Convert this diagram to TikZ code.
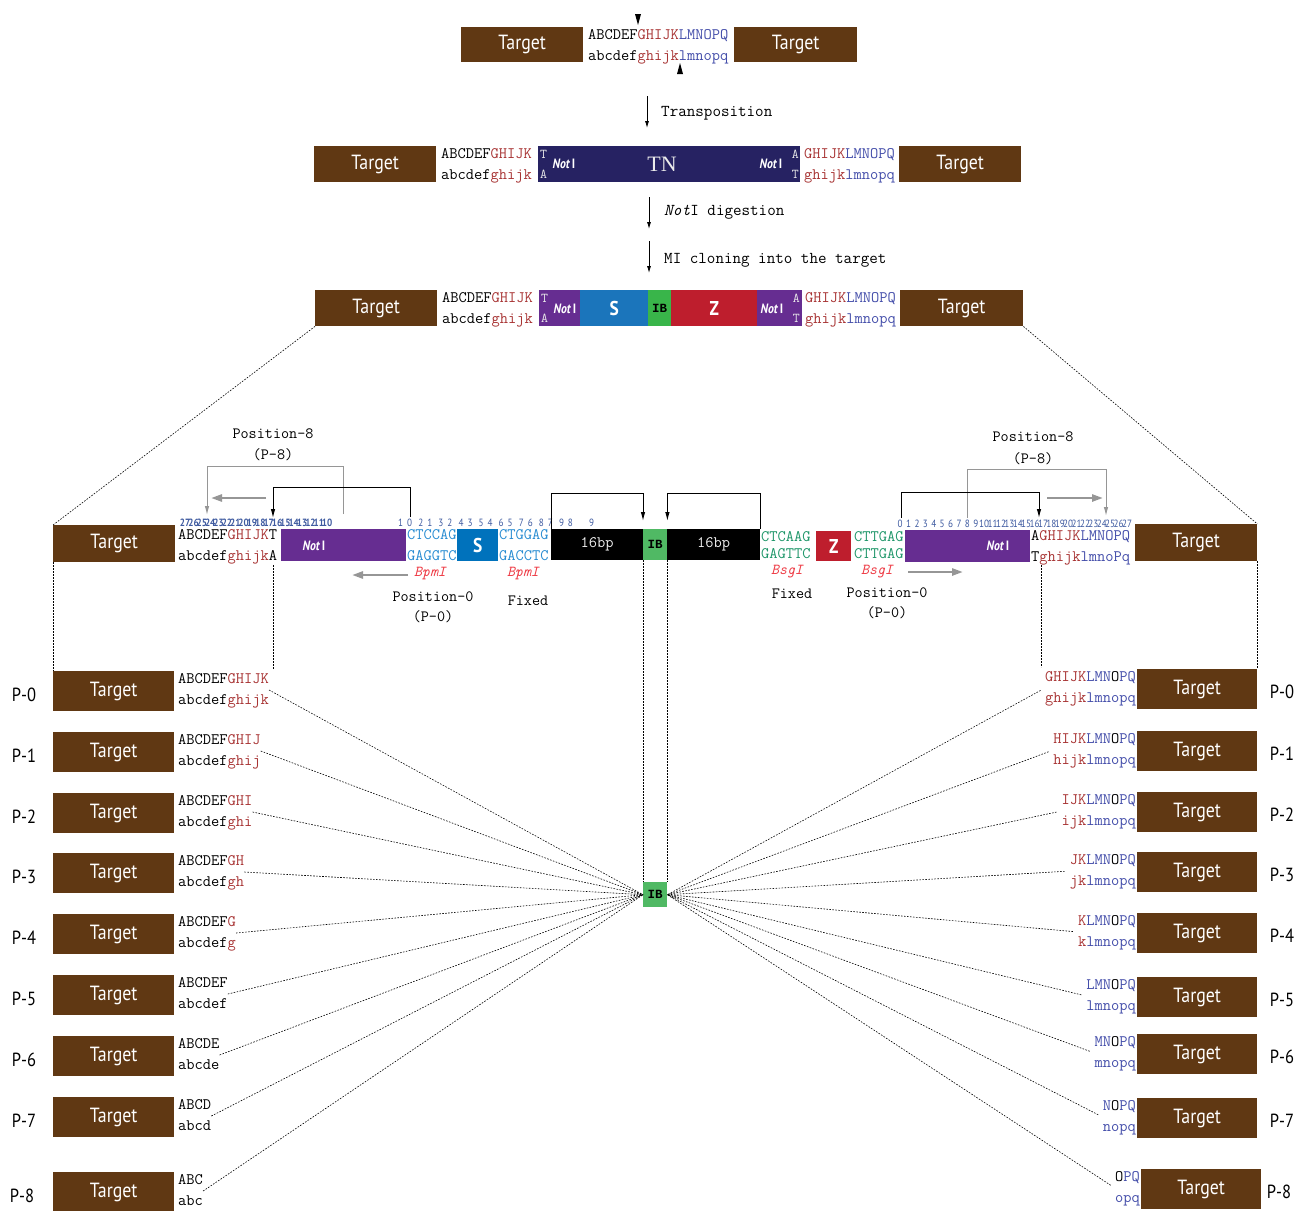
\documentclass[tikz,border=0pt]{standalone}
\usepackage{fontspec}
\setmainfont{Liberation Serif}
\newfontfamily\tgtfont[FakeStretch=0.87]{PT Sans}
\newfontfamily\ibfont{Liberation Mono}
\usetikzlibrary{arrows.meta,positioning}

\definecolor{tgtbrown}{RGB}{96,56,19}
\definecolor{seqred}{RGB}{168,52,52}
\definecolor{seqblue}{RGB}{68,78,170}
\definecolor{tnnavy}{RGB}{38,34,98}
\definecolor{notpurple}{RGB}{102,45,145}
\definecolor{sblue}{RGB}{27,117,187}
\definecolor{sbluedk}{RGB}{0,114,188}
\definecolor{ibgreen}{RGB}{57,181,74}
\definecolor{ibgreenlt}{RGB}{80,185,100}
\definecolor{zred}{RGB}{190,30,45}
\definecolor{enzred}{RGB}{238,58,68}
\definecolor{bpmblue}{RGB}{40,140,210}
\definecolor{bsggreen}{RGB}{30,150,105}
\definecolor{numblue}{RGB}{62,90,160}
\definecolor{arrgrey}{RGB}{150,150,150}

\newcommand{\seqR}[1]{\textcolor{seqred}{#1}}
\newcommand{\seqB}[1]{\textcolor{seqblue}{#1}}
\newcommand{\seqfont}{\ttfamily\fontsize{16}{21}\selectfont}
\newcommand{\notI}{{\bfseries\itshape Not}\,{\bfseries I}}
\newcommand{\numcell}[1]{\makebox[8.35pt]{#1}}
\newcommand{\numcellR}[1]{\makebox[8.4pt]{#1}}
\newcommand{\numpair}[2]{\makebox[20.1pt][l]{\makebox[9pt][l]{#1}#2}}

\begin{document}
\begin{tikzpicture}[x=1pt,y=-1pt,
  target/.style={fill=tgtbrown,text=white,inner sep=0pt,minimum width=122,minimum height=37,anchor=north west,font=\tgtfont\fontsize{20.5}{24}\selectfont},
  box/.style={inner sep=0pt,anchor=north west},
  letter/.style={text=white,font=\tgtfont\bfseries\fontsize{20}{22}\selectfont},
  ibtext/.style={text=black,font=\ibfont\bfseries\fontsize{12.5}{14}\selectfont},
  seq/.style={font=\seqfont,align=left,inner sep=0pt,anchor=west},
  seqr/.style={seq,align=right,anchor=east},
  seqg/.style={seq,font=\ttfamily\fontsize{16}{17}\selectfont},
  talbl/.style={font=\ttfamily\fontsize{13.5}{20}\selectfont,text=black!8,align=left,inner sep=0pt,anchor=west},
  notlbl/.style={font=\tgtfont\fontsize{13.5}{15}\selectfont,text=white,inner sep=0pt},
  lbl/.style={font=\ttfamily\fontsize{16.6}{18}\selectfont,inner sep=0pt,anchor=west},
  poslbl/.style={font=\ttfamily\fontsize{15.7}{18}\selectfont,inner sep=0pt},
  enz/.style={font=\ttfamily\itshape\fontsize{15.2}{17}\selectfont,text=enzred,inner sep=0pt},
  nums/.style={font=\tgtfont\fontsize{10.5}{11}\selectfont,text=numblue,inner sep=0pt,anchor=base west},
  plabel/.style={font=\tgtfont\fontsize{19}{22}\selectfont,inner sep=0pt,anchor=base},
  flow/.style={-{Latex[length=7pt,width=4pt]},line width=0.8pt},
  bracket/.style={-{Latex[length=9pt,width=4.5pt]},line width=1pt},
  greybracket/.style={bracket,draw=arrgrey,-{Latex[length=9pt,width=4.5pt,fill=arrgrey]}},
  greyarrow/.style={-{Triangle[length=11pt,width=7pt]},line width=2.5pt,draw=arrgrey},
  dotline/.style={dash pattern=on 1.6pt off 1.4pt,line width=0.6pt}]
\path[use as bounding box,fill=white] (0,0) rectangle (1295,1210);

\node[target,minimum height=35] (t1L) at (461,27) {Target};
\node[target,minimum width=123,minimum height=35] (t1R) at (734,27) {Target};
\node[seq] (s1) at (588,46) {\strut ABCDEF\seqR{GHIJK}\seqB{LMNOPQ}\\\strut abcdef\seqR{ghijk}\seqB{lmnopq}};
\fill (635,14) -- (641,14) -- (638,25) -- cycle;
\fill (677,74) -- (683,74) -- (680,63) -- cycle;

\coordinate (a1) at (647,96);
\coordinate (a1e) at (647,128);
\draw[flow] (a1) -- (a1e);
\node[lbl] (l1) at (661,113) {Transposition};

\node[target,minimum height=36] (t2L) at (314,146) {Target};
\node[seq] (s2L) at (441,165) {\strut ABCDEF\seqR{GHIJK}\\\strut abcdef\seqR{ghijk}};
\node[box,fill=tnnavy,minimum width=262,minimum height=36] (tn) at (538,146) {};
\node[talbl] (tn1) at (540,164) {\strut T\\\strut A};
\node[notlbl] (tn2) at (564,164) {\notI};
\node[font=\fontsize{22}{24}\selectfont,text=black!8,inner sep=0pt] (tn3) at (662,164) {TN};
\node[notlbl] (tn4) at (771,164) {\notI};
\node[talbl,anchor=east,align=right] (tn5) at (799,164) {\strut A\\\strut T};
\node[seq] (s2R) at (804,165) {\strut \seqR{GHIJK}\seqB{LMNOPQ}\\\strut \seqR{ghijk}\seqB{lmnopq}};
\node[target,minimum height=36] (t2R) at (899,146) {Target};

\coordinate (a2) at (649,197);
\coordinate (a2e) at (649,229);
\draw[flow] (a2) -- (a2e);
\node[lbl] (l2) at (664,212) {\textit{Not}I digestion};

\coordinate (a3) at (649,241);
\coordinate (a3e) at (649,273);
\draw[flow] (a3) -- (a3e);
\node[lbl] (l3) at (664,260) {MI cloning into the target};

\node[target,minimum height=36] (t3L) at (315,290) {Target};
\node[seq] (s3L) at (442,309) {\strut ABCDEF\seqR{GHIJK}\\\strut abcdef\seqR{ghijk}};
\node[box,fill=notpurple,minimum width=41,minimum height=36] (n3L) at (539,290) {};
\node[talbl] (n3a) at (541,308) {\strut T\\\strut A};
\node[notlbl] (n3b) at (565,309) {\notI};
\node[box,letter,fill=sblue,minimum width=68,minimum height=36] (s3) at (580,290) {S};
\node[box,ibtext,fill=ibgreen,minimum width=23,minimum height=36] (ib3) at (648,290) {IB};
\node[box,letter,fill=zred,minimum width=86,minimum height=36] (z3) at (671,290) {Z};
\node[box,fill=notpurple,minimum width=45,minimum height=36] (n3R) at (757,290) {};
\node[notlbl] (n3c) at (772,309) {\notI};
\node[talbl,anchor=east,align=right] (n3d) at (800,308) {\strut A\\\strut T};
\node[seq] (s3R) at (805,309) {\strut \seqR{GHIJK}\seqB{LMNOPQ}\\\strut \seqR{ghijk}\seqB{lmnopq}};
\node[target,minimum width=123,minimum height=36] (t3R) at (900,290) {Target};

\node[target] (tML) at (53,525) {Target};
\node[seq] (sML) at (178,545.5) {\strut ABCDEF\seqR{GHIJK}T\\\strut abcdef\seqR{ghijk}A};
\node[box,fill=notpurple,minimum width=125,minimum height=32] (nML) at (281,529) {};
\node[notlbl] (nMLt) at (314,546) {\notI};
\node[seq,text=bpmblue] (bpL) at (407,545.5) {\strut CTCCAG\\\strut GAGGTC};
\node[box,letter,fill=sbluedk,minimum width=41,minimum height=32] (sM) at (457,529) {S};
\node[seq,text=bpmblue] (bpR) at (499,545.5) {\strut CTGGAG\\\strut GACCTC};
\node[box,fill=black,text=black!6,font=\seqfont,minimum width=92,minimum height=31] (blk1) at (551,529) {16bp};
\node[box,ibtext,fill=ibgreenlt,minimum width=24,minimum height=31] (ibM) at (643,529) {IB};
\node[box,fill=black,text=black!6,font=\seqfont,minimum width=93,minimum height=31] (blk2) at (667,529) {16bp};
\node[seqg,text=bsggreen] (bgL) at (761,546.6) {\strut CTCAAG\\\strut GAGTTC};
\node[box,letter,fill=zred,minimum width=35,minimum height=30] (zM) at (816,531) {Z};
\node[seqg,text=bsggreen] (bgR) at (854,546.6) {\strut CTTGAG\\\strut CTTGAG};
\node[box,fill=notpurple,minimum width=125,minimum height=32] (nMR) at (905,530) {};
\node[notlbl] (nMRt) at (998,546) {\notI};
\node[seq] (sMR) at (1031,546.6) {\strut A\seqR{GHIJK}\seqB{LMNOPQ}\\\strut T\seqR{ghijk}\seqB{lmnoPq}};
\node[target] (tMR) at (1135,524) {Target};

\node[nums,font=\tgtfont\bfseries\fontsize{10.5}{11}\selectfont] (numL) at (180.8,526) {\numcell{27}\numcell{26}\numcell{25}\numcell{24}\numcell{23}\numcell{22}\numcell{21}\numcell{20}\numcell{19}\numcell{18}\numcell{17}\numcell{16}\numcell{15}\numcell{14}\numcell{13}\numcell{12}\numcell{11}\numcell{10}};
\node[nums] (numM) at (398,526) {\numpair{1}{0}\numpair{2}{1}\numpair{3}{2}\numpair{4}{3}\numpair{5}{4}\numpair{6}{5}\numpair{7}{6}\numpair{8}{7}\numpair{9}{8}\hspace{10pt}9};
\node[nums] (numR) at (895.8,527) {\numcellR{0}\numcellR{1}\numcellR{2}\numcellR{3}\numcellR{4}\numcellR{5}\numcellR{6}\numcellR{7}\numcellR{8}\numcellR{9}\numcellR{10}\numcellR{11}\numcellR{12}\numcellR{13}\numcellR{14}\numcellR{15}\numcellR{16}\numcellR{17}\numcellR{18}\numcellR{19}\numcellR{20}\numcellR{21}\numcellR{22}\numcellR{23}\numcellR{24}\numcellR{25}\numcellR{26}\numcellR{27}};

\node[poslbl] (posL8) at (273,434) {Position-8};
\node[poslbl] (posL8b) at (273,455) {(P-8)};
\coordinate (gbL1) at (343,514);
\coordinate (gbL2) at (207,515);
\draw[greybracket] (gbL1) -- ++(0,-48) -| (gbL2);
\coordinate (bL1) at (410,517);
\coordinate (bL2) at (273,518);
\draw[bracket] (bL1) -- ++(0,-30) -| (bL2);
\coordinate (gaL1) at (266,498);
\coordinate (gaL2) at (211,498);
\draw[greyarrow] (gaL1) -- (gaL2);

\draw[bracket,shorten >=8pt] (blk1.north west) -- ++(0,-36) -| (ibM.north west);
\draw[bracket,shorten >=8pt] (blk2.north east) -- ++(0,-36) -| (ibM.north east);

\node[poslbl] (posR8) at (1033,437) {Position-8};
\node[poslbl] (posR8b) at (1033,459) {(P-8)};
\coordinate (gbR1) at (967,518);
\coordinate (gbR2) at (1106,516);
\draw[greybracket] (gbR1) -- ++(0,-49) -| (gbR2);
\coordinate (bR1) at (901,518);
\coordinate (bR2) at (1039,518);
\draw[bracket] (bR1) -- ++(0,-26) -| (bR2);
\coordinate (gaR1) at (1047,498);
\coordinate (gaR2) at (1103,498);
\draw[greyarrow] (gaR1) -- (gaR2);

\node[enz] (e1) at (430,574) {BpmI};
\node[enz] (e2) at (523,574) {BpmI};
\coordinate (gaM1) at (408,575);
\coordinate (gaM2) at (352,575);
\draw[greyarrow] (gaM1) -- (gaM2);
\node[poslbl] (posL0) at (433,597) {Position-0};
\node[poslbl] (posL0b) at (433,617) {(P-0)};
\node[poslbl] (fixL) at (528,601) {Fixed};
\node[enz] (e3) at (787,572) {BsgI};
\node[enz] (e4) at (877,572) {BsgI};
\coordinate (gaN1) at (908,572);
\coordinate (gaN2) at (963,572);
\draw[greyarrow] (gaN1) -- (gaN2);
\node[poslbl] (fixR) at (792,594) {Fixed};
\node[poslbl] (posR0) at (887,593) {Position-0};
\node[poslbl] (posR0b) at (887,613) {(P-0)};

\node[box,ibtext,fill=ibgreenlt,minimum width=24,minimum height=25] (ib) at (643,882) {IB};

\node[target,minimum width=121,minimum height=40] (tL0) at (53,671) {Target};
\node[seq] (pL0) at (178,690) {\strut ABCDEF\seqR{GHIJK}\\\strut abcdef\seqR{ghijk}};
\node[plabel] (lL0) at (24,701) {P-0};
\node[target,minimum width=121,minimum height=40] (tL1) at (53,732) {Target};
\node[seq] (pL1) at (178,751) {\strut ABCDEF\seqR{GHIJ}\\\strut abcdef\seqR{ghij}};
\node[plabel] (lL1) at (24,762) {P-1};
\node[target,minimum width=121,minimum height=40] (tL2) at (53,793) {Target};
\node[seq] (pL2) at (178,812) {\strut ABCDEF\seqR{GHI}\\\strut abcdef\seqR{ghi}};
\node[plabel] (lL2) at (24,823) {P-2};
\node[target,minimum width=121,minimum height=40] (tL3) at (53,853) {Target};
\node[seq] (pL3) at (178,872) {\strut ABCDEF\seqR{GH}\\\strut abcdef\seqR{gh}};
\node[plabel] (lL3) at (24,883) {P-3};
\node[target,minimum width=121,minimum height=40] (tL4) at (53,914) {Target};
\node[seq] (pL4) at (178,933) {\strut ABCDEF\seqR{G}\\\strut abcdef\seqR{g}};
\node[plabel] (lL4) at (24,944) {P-4};
\node[target,minimum width=121,minimum height=40] (tL5) at (53,975) {Target};
\node[seq] (pL5) at (178,994) {\strut ABCDEF\\\strut abcdef};
\node[plabel] (lL5) at (24,1005) {P-5};
\node[target,minimum width=121,minimum height=40] (tL6) at (53,1036) {Target};
\node[seq] (pL6) at (178,1055) {\strut ABCDE\\\strut abcde};
\node[plabel] (lL6) at (24,1066) {P-6};
\node[target,minimum width=121,minimum height=40] (tL7) at (53,1097) {Target};
\node[seq] (pL7) at (178,1116) {\strut ABCD\\\strut abcd};
\node[plabel] (lL7) at (24,1127) {P-7};
\node[target,minimum width=121,minimum height=40] (tL8) at (53,1172) {Target};
\node[seq] (pL8) at (178,1191) {\strut ABC\\\strut abc};
\node[plabel] (lL8) at (22,1202) {P-8};

\node[target,minimum width=120,minimum height=40] (tR0) at (1137,669) {Target};
\node[seqr] (pR0) at (1136,688) {\strut \seqR{GHIJK}\seqB{LMN}O\seqB{PQ}\\\strut \seqR{ghijk}\seqB{lmnopq}};
\node[plabel] (lR0) at (1282,698) {P-0};
\node[target,minimum width=120,minimum height=40] (tR1) at (1137,731) {Target};
\node[seqr] (pR1) at (1136,750) {\strut \seqR{HIJK}\seqB{LMN}O\seqB{PQ}\\\strut \seqR{hijk}\seqB{lmnopq}};
\node[plabel] (lR1) at (1282,760) {P-1};
\node[target,minimum width=120,minimum height=40] (tR2) at (1137,792) {Target};
\node[seqr] (pR2) at (1136,811) {\strut \seqR{IJK}\seqB{LMN}O\seqB{PQ}\\\strut \seqR{ijk}\seqB{lmnopq}};
\node[plabel] (lR2) at (1282,821) {P-2};
\node[target,minimum width=120,minimum height=40] (tR3) at (1137,852) {Target};
\node[seqr] (pR3) at (1136,871) {\strut \seqR{JK}\seqB{LMN}O\seqB{PQ}\\\strut \seqR{jk}\seqB{lmnopq}};
\node[plabel] (lR3) at (1282,881) {P-3};
\node[target,minimum width=120,minimum height=40] (tR4) at (1137,913) {Target};
\node[seqr] (pR4) at (1136,932) {\strut \seqR{K}\seqB{LMN}O\seqB{PQ}\\\strut \seqR{k}\seqB{lmnopq}};
\node[plabel] (lR4) at (1282,942) {P-4};
\node[target,minimum width=120,minimum height=40] (tR5) at (1137,977) {Target};
\node[seqr] (pR5) at (1136,996) {\strut \seqB{LMN}O\seqB{PQ}\\\strut \seqB{lmnopq}};
\node[plabel] (lR5) at (1282,1006) {P-5};
\node[target,minimum width=120,minimum height=40] (tR6) at (1137,1034) {Target};
\node[seqr] (pR6) at (1136,1053) {\strut \seqB{MN}O\seqB{PQ}\\\strut \seqB{mnopq}};
\node[plabel] (lR6) at (1282,1063) {P-6};
\node[target,minimum width=120,minimum height=40] (tR7) at (1137,1098) {Target};
\node[seqr] (pR7) at (1136,1117) {\strut \seqB{N}O\seqB{PQ}\\\strut \seqB{nopq}};
\node[plabel] (lR7) at (1282,1127) {P-7};
\node[target,minimum width=120,minimum height=40] (tR8) at (1141,1169) {Target};
\node[seqr] (pR8) at (1140,1188) {\strut O\seqB{PQ}\\\strut \seqB{opq}};
\node[plabel] (lR8) at (1279,1198) {P-8};

\draw[dotline] (t3L.south west) -- (tML.north west);
\draw[dotline] (t3R.south east) -- (tMR.north east);
\draw[dotline] (tML.south west) -- (tL0.north west);
\draw[dotline] (tMR.south east) -- (tR0.north east);
\coordinate (cutL) at (273,565);
\coordinate (cutLe) at (273,669);
\draw[dotline] (cutL) -- (cutLe);
\coordinate (cutR) at (1041,565);
\coordinate (cutRe) at (1041,667);
\draw[dotline] (cutR) -- (cutRe);
\draw[dotline] (ibM.south west) -- (ib.north west);
\draw[dotline] (ibM.south east) -- (ib.north east);

\draw[dotline] (pL0.east) -- (ib.west);
\draw[dotline] (pL1.east) -- (ib.west);
\draw[dotline] (pL2.east) -- (ib.west);
\draw[dotline] (pL3.east) -- (ib.west);
\draw[dotline] (pL4.east) -- (ib.west);
\draw[dotline] (pL5.east) -- (ib.west);
\draw[dotline] (pL6.east) -- (ib.west);
\draw[dotline] (pL7.east) -- (ib.west);
\draw[dotline] (pL8.east) -- (ib.west);
\draw[dotline,shorten <=5pt] (pR0.west) -- (ib.east);
\draw[dotline,shorten <=5pt] (pR1.west) -- (ib.east);
\draw[dotline,shorten <=5pt] (pR2.west) -- (ib.east);
\draw[dotline,shorten <=5pt] (pR3.west) -- (ib.east);
\draw[dotline,shorten <=5pt] (pR4.west) -- (ib.east);
\draw[dotline,shorten <=5pt] (pR5.west) -- (ib.east);
\draw[dotline,shorten <=5pt] (pR6.west) -- (ib.east);
\draw[dotline,shorten <=5pt] (pR7.west) -- (ib.east);
\draw[dotline,shorten <=5pt] (pR8.west) -- (ib.east);
\end{tikzpicture}
\end{document}
